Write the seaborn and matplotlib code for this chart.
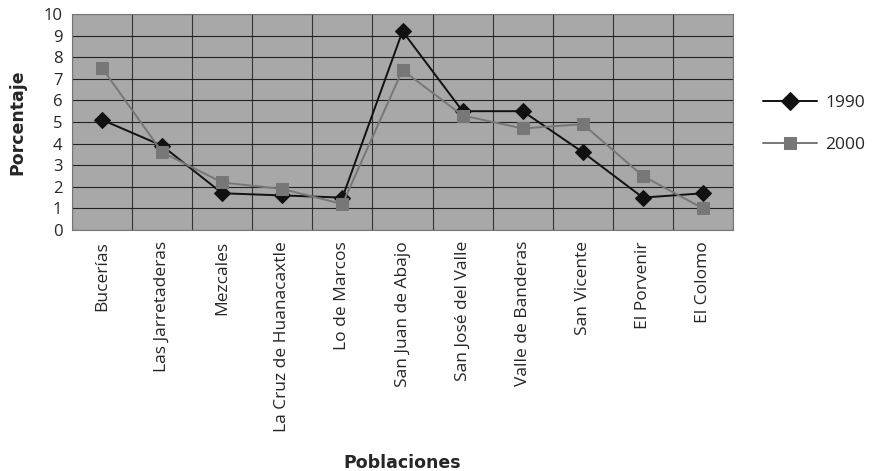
import pandas as pd
import numpy as np
import matplotlib
matplotlib.use("Agg")
import matplotlib.pyplot as plt
import seaborn as sns

poblaciones = ["Bucerías", "Las Jarretaderas", "Mezcales", "La Cruz de Huanacaxtle",
               "Lo de Marcos", "San Juan de Abajo", "San José del Valle",
               "Valle de Banderas", "San Vicente", "El Porvenir", "El Colomo"]
pct_1990 = [5.1, 3.9, 1.7, 1.6, 1.5, 9.2, 5.5, 5.5, 3.6, 1.5, 1.7]
pct_2000 = [7.5, 3.6, 2.2, 1.9, 1.2, 7.4, 5.3, 4.7, 4.9, 2.5, 1.0]
years = ["1990", "2000"]

df = pd.DataFrame({
    "pos": list(range(len(poblaciones))) * 2,
    "pct": pct_1990 + pct_2000,
    "year": [years[0]] * len(poblaciones) + [years[1]] * len(poblaciones),
})

sns.set_style("white")
plt.rcParams['font.family'] = ['Open Sans', 'DejaVu Sans']

fig = plt.figure(figsize=(8.74, 4.71), dpi=100)
ax = fig.add_axes([0.0824, 0.5117, 0.7563, 0.4586])
ax.set_facecolor("#a8a8a8")

sns.lineplot(data=df, x="pos", y="pct", hue="year", style="year",
             palette={"1990": "#111111", "2000": "#777777"},
             markers={"1990": "D", "2000": "s"}, dashes=False,
             markersize=8, linewidth=1.4, ax=ax)
for ln in ax.lines:
    ln.set_markeredgecolor(ln.get_color())

n = len(poblaciones)
ax.set_xlim(-0.5, n - 0.5)
ax.set_ylim(0, 10)
ax.set_yticks(range(0, 11))
ax.set_xticks(range(n))
ax.set_xticklabels(poblaciones, rotation=90, fontsize=12.5)
ax.set_xticks(np.arange(-0.5, n, 1.0), minor=True)
ax.tick_params(axis="x", which="major", length=0, pad=8)
ax.tick_params(axis="x", which="minor", length=6, color="#555555", width=0.8)
ax.tick_params(axis="y", length=5, color="#555555", width=0.8, labelsize=12, pad=2)
ax.yaxis.grid(True, color="#222222", linewidth=0.8)
ax.xaxis.grid(True, which="minor", color="#333333", linewidth=0.8)
ax.set_axisbelow(True)
for s in ax.spines.values():
    s.set_color("#777777")
    s.set_linewidth(0.8)

ax.set_xlabel("Poblaciones", fontsize=12.5, fontweight="bold",
              family=["Liberation Sans Narrow", "DejaVu Sans"], labelpad=16)
ax.set_ylabel("Porcentaje", fontsize=12.5, fontweight="bold",
              family=["Liberation Sans Narrow", "DejaVu Sans"], labelpad=12)

leg = ax.legend(loc="center left", bbox_to_anchor=(1.045, 0.49), frameon=False,
                borderaxespad=0, borderpad=0,
                fontsize=12.5, handlelength=3.1, handletextpad=0.5,
                labelspacing=1.5, title=None)
for h in leg.legend_handles:
    h.set_markeredgecolor(h.get_color())
    h.set_markersize(9)

fig.savefig("out.png", dpi=100)
